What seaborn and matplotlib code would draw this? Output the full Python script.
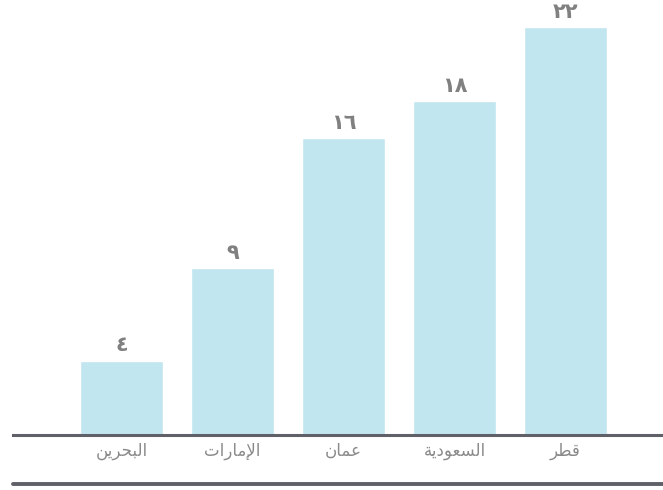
import matplotlib
matplotlib.use("Agg")
import matplotlib.pyplot as plt
import seaborn as sns
import pandas as pd
from matplotlib.lines import Line2D

countries = ["البحرين", "الإمارات", "عمان", "السعودية", "قطر"]
values = [4, 9, 16, 18, 22]

# Arabic presentation forms: isolated, final, initial, medial
FORMS = {
    "ا": ("\uFE8D", "\uFE8E", None, None),
    "إ": ("\uFE87", "\uFE88", None, None),
    "ب": ("\uFE8F", "\uFE90", "\uFE91", "\uFE92"),
    "ة": ("\uFE93", "\uFE94", None, None),
    "ت": ("\uFE95", "\uFE96", "\uFE97", "\uFE98"),
    "ح": ("\uFEA1", "\uFEA2", "\uFEA3", "\uFEA4"),
    "د": ("\uFEA9", "\uFEAA", None, None),
    "ر": ("\uFEAD", "\uFEAE", None, None),
    "س": ("\uFEB1", "\uFEB2", "\uFEB3", "\uFEB4"),
    "ط": ("\uFEC1", "\uFEC2", "\uFEC3", "\uFEC4"),
    "ع": ("\uFEC9", "\uFECA", "\uFECB", "\uFECC"),
    "ق": ("\uFED5", "\uFED6", "\uFED7", "\uFED8"),
    "ل": ("\uFEDD", "\uFEDE", "\uFEDF", "\uFEE0"),
    "م": ("\uFEE1", "\uFEE2", "\uFEE3", "\uFEE4"),
    "ن": ("\uFEE5", "\uFEE6", "\uFEE7", "\uFEE8"),
    "و": ("\uFEED", "\uFEEE", None, None),
    "ي": ("\uFEF1", "\uFEF2", "\uFEF3", "\uFEF4"),
}
LAM_ALEF = {"ا": ("\uFEFB", "\uFEFC"), "إ": ("\uFEF9", "\uFEFA")}


def joins_forward(ch):
    return ch in FORMS and FORMS[ch][2] is not None


def shape(text):
    chars = list(text)
    out = []
    i = 0
    while i < len(chars):
        c = chars[i]
        prev = chars[i - 1] if i > 0 else None
        prev_joins = prev is not None and joins_forward(prev)
        if c == "ل" and i + 1 < len(chars) and chars[i + 1] in LAM_ALEF:
            iso, fin = LAM_ALEF[chars[i + 1]]
            out.append(fin if prev_joins else iso)
            i += 2
            continue
        if c not in FORMS:
            out.append(c)
            i += 1
            continue
        nxt = chars[i + 1] if i + 1 < len(chars) else None
        next_joins = nxt is not None and nxt in FORMS and joins_forward(c)
        iso, fin, ini, med = FORMS[c]
        if prev_joins and next_joins:
            out.append(med)
        elif prev_joins:
            out.append(fin)
        elif next_joins:
            out.append(ini)
        else:
            out.append(iso)
        i += 1
    return "".join(reversed(out))


def arabic_digits(n):
    return str(n).translate(str.maketrans("0123456789", "٠١٢٣٤٥٦٧٨٩"))


df = pd.DataFrame({"country": countries, "value": values})

sns.set_style("white")
plt.rcParams["font.family"] = ["DejaVu Sans"]

fig = plt.figure(figsize=(6.63, 4.90), dpi=100)
ax = fig.add_axes([13 / 663, 55 / 490, 650 / 663, 435 / 490])

sns.barplot(data=df, x="country", y="value", color="#c2e6f0", saturation=1,
            width=0.75, ax=ax)

for i, v in enumerate(values):
    ax.text(i, v + 0.3, arabic_digits(v), ha="center", va="bottom",
            fontsize=15, fontweight="bold", color="#808080", clip_on=False)

ax.set_xlim(-0.977, 4.878)
ax.set_ylim(0, 23.46)
ax.set_xticks(range(len(countries)))
ax.set_xticklabels([shape(c) for c in countries], fontsize=12, color="#8a8a8a")
ax.tick_params(axis="x", length=0, pad=5)
ax.set_yticks([])
ax.set_xlabel("")
ax.set_ylabel("")
for s in ["top", "left", "right"]:
    ax.spines[s].set_visible(False)
ax.spines["bottom"].set_color("#5f6068")
ax.spines["bottom"].set_linewidth(2.2)

fig.add_artist(Line2D([13 / 663, 1.0], [6 / 490, 6 / 490],
                      transform=fig.transFigure, color="#5f6068", lw=2.8))

fig.savefig("out.png", dpi=100)
